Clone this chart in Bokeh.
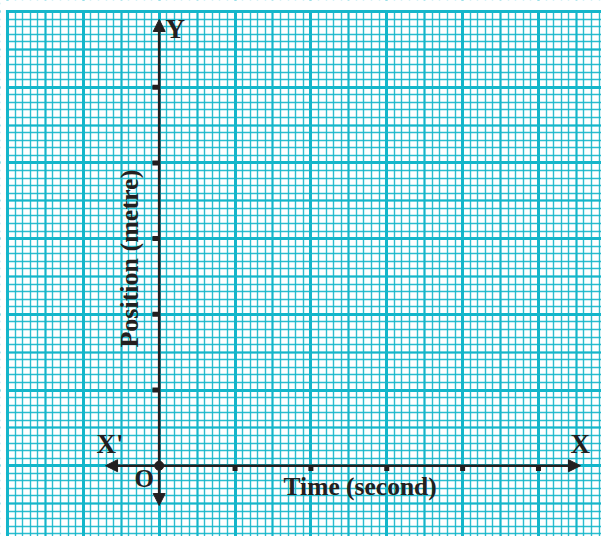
import math
from bokeh.plotting import figure
from bokeh.models import (Grid, SingleIntervalTicker, Arrow, NormalHead, Label,
                          BoxAnnotation, Range1d)
from bokeh.embed import file_html
from bokeh.resources import INLINE

# ---- data ----
x_ticks = [1, 2, 3, 4, 5]
y_ticks = [1, 2, 3, 4, 5]
x_title = "Time (second)"
y_title = "Position (metre)"
axis_names = ["X", "X'", "Y", "O"]

CYAN = "#14b6ca"
INK = "#231f20"
FONT = "Liberation Serif"

p = figure(width=601, height=536,
           x_range=Range1d(-2.092, 5.831), y_range=Range1d(-0.935, 6.145),
           x_axis_type=None, y_axis_type=None,
           toolbar_location=None, output_backend="svg",
           min_border=0, outline_line_color=None)
p.background_fill_color = "white"
p.border_fill_color = "white"

# graph-paper grid: minor (0.1), mid (0.5), major (1)
for dim in (0, 1):
    mid = Grid(dimension=dim, ticker=SingleIntervalTicker(interval=0.5),
               grid_line_color=CYAN, grid_line_width=2.0)
    p.add_layout(mid)
    main = Grid(dimension=dim,
                ticker=SingleIntervalTicker(interval=1, num_minor_ticks=10),
                grid_line_color=CYAN, grid_line_width=3.0,
                minor_grid_line_color=CYAN, minor_grid_line_width=1.4,
                minor_grid_line_alpha=0.9)
    p.add_layout(main)

# blank margins outside the paper's top and left edges
p.add_layout(BoxAnnotation(bottom=6.02, fill_color="white", fill_alpha=1,
                           line_color=None))
p.add_layout(BoxAnnotation(right=-2.02, fill_color="white", fill_alpha=1,
                           line_color=None))

# axes with arrow heads
def head():
    return NormalHead(size=12, fill_color=INK, fill_alpha=1,
                      line_color=INK, line_width=1)

for (xe, ye) in [(5.554, 0), (-0.707, 0), (0, 5.894), (0, -0.526)]:
    p.add_layout(Arrow(end=head(), x_start=0, y_start=0, x_end=xe, y_end=ye,
                       line_color=INK, line_width=2.6))

# tick marks
p.rect(x=x_ticks, y=[-0.03] * len(x_ticks), width=5, height=6,
       width_units="screen", height_units="screen",
       fill_color=INK, line_color=None)
p.rect(x=[-0.05] * len(y_ticks), y=y_ticks, width=6, height=5,
       width_units="screen", height_units="screen",
       fill_color=INK, line_color=None)

# origin dot
p.scatter(x=[0], y=[0], size=9, fill_color=INK, line_color=INK)

def lab(text, x, y, size, angle=0.0):
    p.add_layout(Label(x=x, y=y, text=text, text_font=FONT,
                       text_font_style="bold", text_font_size=size,
                       text_color=INK, text_align="left",
                       text_baseline="alphabetic", angle=angle))

lab(axis_names[0], 5.422, 0.293, "27px")
lab(axis_names[1], -0.826, 0.293, "27px")
lab(axis_names[2], 0.083, 5.775, "27px")
lab(axis_names[3], -0.326, -0.169, "25px")
lab(x_title, 1.639, -0.27, "25.5px")
lab(y_title, -0.385, 1.561, "26px", angle=math.pi / 2)

open("out.html", "w").write(file_html(p, INLINE))
